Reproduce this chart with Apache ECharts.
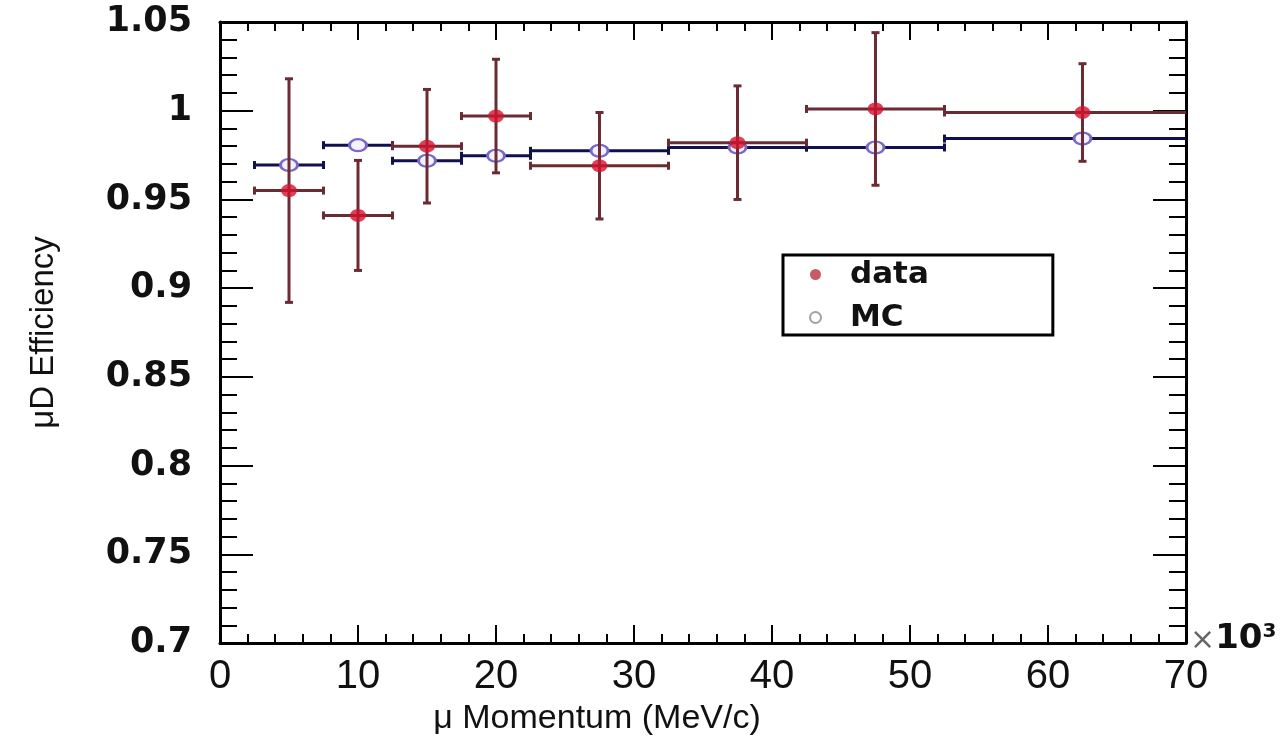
<!DOCTYPE html>
<html>
<head>
<meta charset="utf-8">
<title>μD Efficiency vs μ Momentum</title>
<script src="https://cdn.jsdelivr.net/npm/echarts@6/dist/echarts.min.js"></script>
<style>
  html, body { margin: 0; padding: 0; background: #ffffff; }
  #chart { width: 1283px; height: 741px; }
</style>
</head>
<body>
<div id="chart"></div>
<script>
// Momentum bins, in units of 10^3 MeV/c
const binCenters = [5, 10, 15, 20, 27.5, 37.5, 47.5, 62.5];
const binLow     = [2.5, 7.5, 12.5, 17.5, 22.5, 32.5, 42.5, 52.5];
const binHigh    = [7.5, 12.5, 17.5, 22.5, 32.5, 42.5, 52.5, 72.5];

// Measured efficiency and its uncertainty
const dataEff = [0.955, 0.941, 0.980, 0.997, 0.969, 0.982, 1.001, 0.999];
const dataErr = [0.063, 0.031, 0.032, 0.032, 0.030, 0.032, 0.043, 0.0275];

// Simulated efficiency
const mcEff = [0.9694, 0.9806, 0.9718, 0.9746, 0.9774, 0.9793, 0.9793, 0.9843];

// Axis ticks
const xTicks = { min: 0, max: 70, step: 10 };
const yTicks = { min: 0.70, max: 1.05, step: 0.05 };

const SANS = "'Liberation Sans Narrow', 'Liberation Sans', sans-serif";
const WIDE = "'DejaVu Sans', sans-serif";

const DATA_BAR = '#6b2b33';
const DATA_DOT = '#d4122e';
const MC_BAR = '#10104e';
const MC_DOT = '#7a68c8';

function rows(effs, errs) {
  return binCenters.map((x, i) => [x, effs[i], binLow[i], binHigh[i], errs ? errs[i] : 0]);
}

// Error-bar glyph: horizontal bin width with end caps, vertical uncertainty with end caps
function errorBars(color, drawVertical) {
  return function (params, api) {
    const x = api.value(0), y = api.value(1);
    const lo = api.value(2), hi = api.value(3), e = api.value(4);
    const c = api.coord([x, y]);
    const pl = api.coord([lo, y]);
    const ph = api.coord([hi, y]);
    const style = { stroke: color, lineWidth: 3 };
    const cap = 4;
    const children = [
      { type: 'line', shape: { x1: pl[0], y1: c[1], x2: ph[0], y2: c[1] }, style },
      { type: 'line', shape: { x1: pl[0], y1: c[1] - cap, x2: pl[0], y2: c[1] + cap }, style },
      { type: 'line', shape: { x1: ph[0], y1: c[1] - cap, x2: ph[0], y2: c[1] + cap }, style }
    ];
    if (drawVertical && e > 0) {
      const top = api.coord([x, y + e]);
      const bot = api.coord([x, y - e]);
      children.push(
        { type: 'line', shape: { x1: c[0], y1: top[1], x2: c[0], y2: bot[1] }, style },
        { type: 'line', shape: { x1: c[0] - cap, y1: top[1], x2: c[0] + cap, y2: top[1] }, style },
        { type: 'line', shape: { x1: c[0] - cap, y1: bot[1], x2: c[0] + cap, y2: bot[1] }, style }
      );
    }
    return { type: 'group', children };
  };
}

const frameLine = { lineStyle: { color: '#000', width: 3 } };

function xAxisDef(position, showLabels) {
  return {
    type: 'value', position,
    min: xTicks.min, max: xTicks.max, interval: xTicks.step,
    axisLine: { show: true, onZero: false, ...frameLine },
    axisTick: { show: true, inside: true, length: 18, lineStyle: { color: '#000', width: 2 } },
    minorTick: { show: true, splitNumber: 5, length: 9, lineStyle: { color: '#000', width: 2 } },
    splitLine: { show: false },
    axisLabel: showLabels ? {
      show: true, margin: 14, color: '#111',
      fontFamily: SANS, fontSize: 40
    } : { show: false }
  };
}

function yAxisDef(position, showLabels) {
  return {
    type: 'value', position,
    min: yTicks.min, max: yTicks.max, interval: yTicks.step,
    axisLine: { show: true, onZero: false, ...frameLine },
    axisTick: { show: true, inside: true, length: 33, lineStyle: { color: '#000', width: 2 } },
    minorTick: { show: true, splitNumber: 5, length: 17, lineStyle: { color: '#000', width: 2 } },
    splitLine: { show: false },
    axisLabel: showLabels ? {
      show: true, margin: 28, color: '#111',
      fontFamily: WIDE, fontWeight: 'bold', fontSize: 35,
      formatter: v => String(+v.toFixed(2))
    } : { show: false }
  };
}

const xBottom = xAxisDef('bottom', true);
xBottom.name = 'μ Momentum (MeV/c)';
xBottom.nameLocation = 'middle';
xBottom.nameGap = 50;
xBottom.nameTextStyle = { fontFamily: SANS, fontSize: 34, color: '#111', padding: [0, 212, 0, 0] };

const yLeft = yAxisDef('left', true);
yLeft.name = 'μD Efficiency';
yLeft.nameLocation = 'middle';
yLeft.nameGap = 160;
yLeft.nameRotate = 90;
yLeft.nameTextStyle = { fontFamily: SANS, fontSize: 33, color: '#111' };

const chart = echarts.init(document.getElementById('chart'), null, { renderer: 'canvas' });

chart.setOption({
  backgroundColor: '#ffffff',
  animation: false,
  grid: { left: 220, right: 97, top: 22, bottom: 90, containLabel: false },
  xAxis: [xBottom, xAxisDef('top', false)],
  yAxis: [yLeft, yAxisDef('right', false)],
  legend: {
    orient: 'vertical',
    left: 783, top: 255,
    backgroundColor: '#fff',
    borderColor: '#000', borderWidth: 3,
    padding: [4, 124, 2, 26],
    itemWidth: 15, itemHeight: 11,
    itemGap: 12,
    textStyle: {
      fontFamily: WIDE, fontWeight: 'bold', fontSize: 31, color: '#111',
      padding: [0, 0, 0, 22]
    },
    data: [
      { name: 'data', icon: 'circle', itemStyle: { color: '#b8323e', borderWidth: 0 } },
      { name: 'MC', icon: 'circle', itemStyle: { color: '#ffffff', borderColor: '#a0a0a8', borderWidth: 2 } }
    ]
  },
  graphic: [{
    type: 'text',
    left: 1190, top: 622,
    style: {
      text: '{x|×}{n|10}{e|3}',
      rich: {
        x: { fontFamily: WIDE, fontSize: 30, fill: '#666', verticalAlign: 'bottom' },
        n: { fontFamily: WIDE, fontWeight: 'bold', fontSize: 34, fill: '#111', verticalAlign: 'bottom' },
        e: { fontFamily: WIDE, fontWeight: 'bold', fontSize: 20, fill: '#111', verticalAlign: 'top' }
      }
    }
  }],
  series: [
    {
      name: 'MC bars', type: 'custom', clip: true, silent: true,
      renderItem: errorBars(MC_BAR, false),
      data: rows(mcEff, null), z: 2
    },
    {
      name: 'MC', type: 'scatter', symbol: 'circle', symbolSize: [17, 12],
      itemStyle: { color: '#f4f2ff', borderColor: MC_DOT, borderWidth: 2.5, opacity: 1 },
      data: binCenters.map((x, i) => [x, mcEff[i]]), z: 3
    },
    {
      name: 'data bars', type: 'custom', clip: true, silent: true,
      renderItem: errorBars(DATA_BAR, true),
      data: rows(dataEff, dataErr), z: 4
    },
    {
      name: 'data', type: 'scatter', symbol: 'circle', symbolSize: [16, 13],
      itemStyle: { color: DATA_DOT },
      data: binCenters.map((x, i) => [x, dataEff[i]]), z: 5
    }
  ]
});
</script>
</body>
</html>
